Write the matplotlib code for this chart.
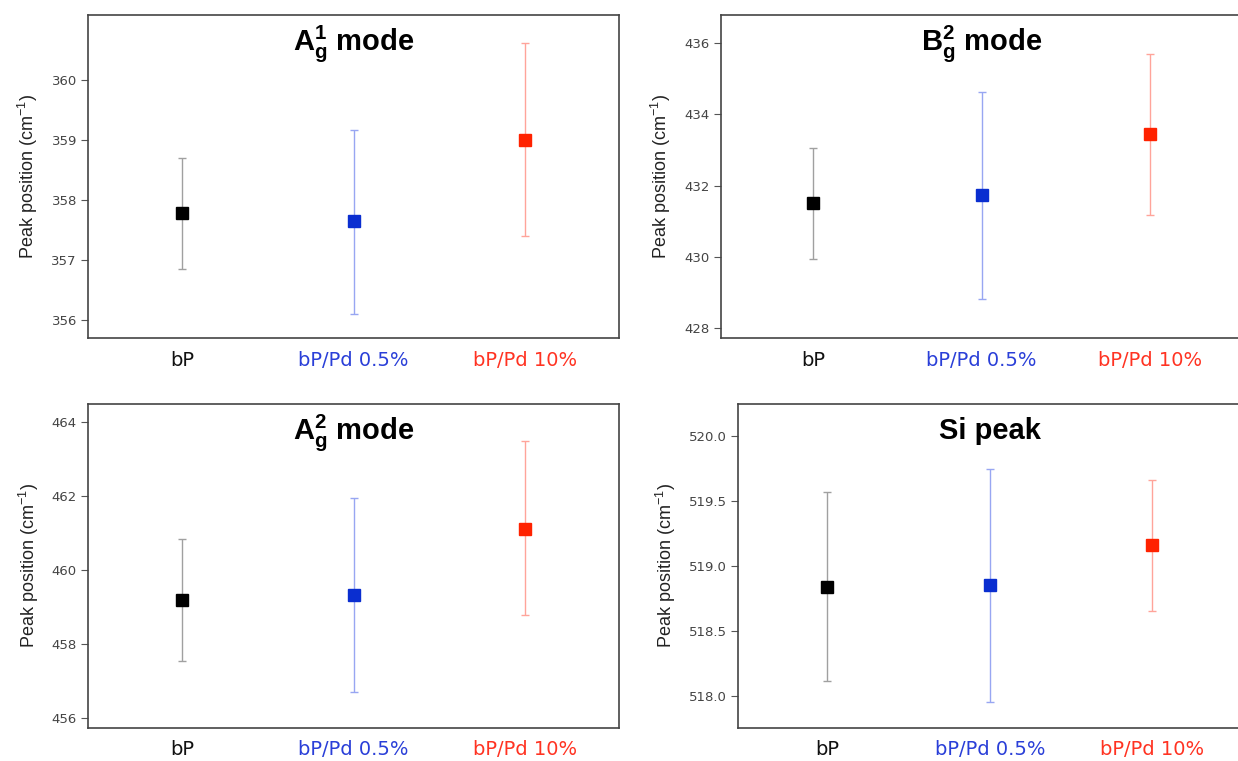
import matplotlib
matplotlib.use("Agg")
import matplotlib.pyplot as plt

plt.rcParams['font.family'] = ['Liberation Sans', 'DejaVu Sans']
plt.rcParams['mathtext.fontset'] = 'custom'
plt.rcParams['mathtext.rm'] = 'Liberation Sans'
plt.rcParams['mathtext.bf'] = 'Liberation Sans:bold'

# samples and colours
samples = ['bP', 'bP/Pd 0.5%', 'bP/Pd 10%']
label_colors = ['#111111', '#2a3fd8', '#ff3322']
marker_colors = ['#000000', '#0a2ed0', '#ff2200']
err_colors = ['#a0a0a0', '#98a6f2', '#ffa49a']

# A1g mode
a1g_mean = [357.78, 357.65, 359.00]
a1g_low = [356.85, 356.10, 357.40]
a1g_high = [358.70, 359.17, 360.62]

# B2g mode
b2g_mean = [431.50, 431.73, 433.45]
b2g_low = [429.93, 428.83, 431.17]
b2g_high = [433.05, 434.62, 435.70]

# A2g mode
a2g_mean = [459.20, 459.33, 461.12]
a2g_low = [457.55, 456.70, 458.78]
a2g_high = [460.83, 461.95, 463.48]

# Si peak
si_mean = [518.84, 518.85, 519.16]
si_low = [518.11, 517.95, 518.65]
si_high = [519.57, 519.75, 519.66]

panels = [
    (r'A$^\mathbf{1}_\mathbf{g}$ mode', a1g_mean, a1g_low, a1g_high,
     [356, 357, 358, 359, 360], (355.7, 361.08), '%d',
     [0.0711, 0.5558, 0.429, 0.4244]),
    (r'B$^\mathbf{2}_\mathbf{g}$ mode', b2g_mean, b2g_low, b2g_high,
     [428, 430, 432, 434, 436], (427.72, 436.79), '%d',
     [0.5824, 0.5558, 0.421, 0.4244]),
    (r'A$^\mathbf{2}_\mathbf{g}$ mode', a2g_mean, a2g_low, a2g_high,
     [456, 458, 460, 462, 464], (455.73, 464.49), '%d',
     [0.0711, 0.0434, 0.429, 0.4258]),
    ('Si peak', si_mean, si_low, si_high,
     [518.0, 518.5, 519.0, 519.5, 520.0], (517.75, 520.25), '%.1f',
     [0.596, 0.0434, 0.407, 0.4258]),
]

fig = plt.figure(figsize=(12.38, 7.61), dpi=100)

for title, mean, low, high, yticks, ylim, fmt, rect in panels:
    ax = fig.add_axes(rect)
    for i in range(len(samples)):
        ax.errorbar(i, mean[i],
                    yerr=[[mean[i] - low[i]], [high[i] - mean[i]]],
                    fmt='none', ecolor=err_colors[i], elinewidth=1.0,
                    capsize=2.8, capthick=1.0, zorder=2)
        ax.plot(i, mean[i], marker='s', markersize=8.5, color=marker_colors[i],
                linestyle='none', zorder=3)
    ax.set_xlim(-0.55, 2.55)
    ax.set_ylim(*ylim)
    ax.set_yticks(yticks)
    ax.set_yticklabels([fmt % t for t in yticks], family='DejaVu Sans',
                       fontsize=9.5, color='#444444')
    ax.set_xticks(range(len(samples)))
    ax.set_xticklabels(samples, family='DejaVu Sans', fontsize=14)
    for lab, c in zip(ax.get_xticklabels(), label_colors):
        lab.set_color(c)
    ax.tick_params(axis='x', length=0, pad=9)
    ax.tick_params(axis='y', length=5, width=0.8, color='#555555', pad=3)
    for sp in ax.spines.values():
        sp.set_color('#444444')
        sp.set_linewidth(1.2)
    ax.set_ylabel(r'Peak position (cm$^{-1}$)', fontsize=13, color='#222222',
                  labelpad=8)
    ax.text(0.5, 0.892, title, transform=ax.transAxes, ha='center',
            va='baseline', fontsize=21, fontweight='bold')

fig.savefig('out.png', dpi=100)
